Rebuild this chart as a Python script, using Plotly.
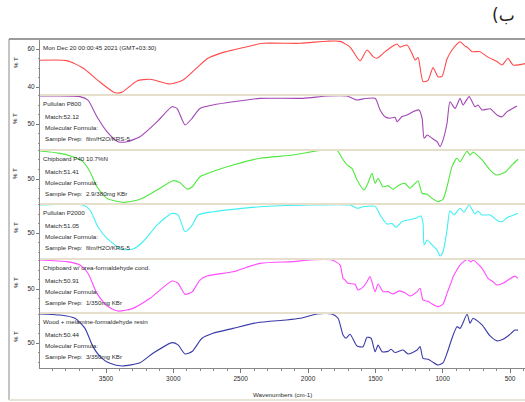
import plotly.graph_objects as go

# ---------------- data (wavenumber cm-1, %T) ----------------
red_wn = [3990, 3790, 3671, 3545, 3433, 3381, 3270, 3173, 3025, 2928, 2824, 2743, 2653, 2557, 2453, 2334,
          2059, 1859, 1762, 1688, 1614, 1562, 1517, 1488, 1428, 1369, 1339, 1317, 1265, 1228, 1205, 1183,
          1146, 1109, 1072, 1035, 1005, 968, 931, 894, 871, 834, 819, 782, 723, 671, 597, 559, 515, 478, 389]
red_t = [54.1, 53.9, 50.0, 42.6, 37.0, 37.3, 43.2, 44.1, 41.6, 43.7, 50.2, 55.1, 57.7, 59.5, 61.2, 63.0,
         63.0, 64.1, 64.0, 61.0, 53.8, 59.5, 56.0, 55.1, 58.6, 61.6, 62.6, 61.0, 62.1, 57.7, 54.2, 55.5,
         42.8, 43.5, 50.2, 45.4, 45.6, 54.7, 59.5, 62.6, 63.8, 61.5, 61.0, 58.6, 58.6, 56.0, 53.4, 51.6, 55.1, 51.6, 52.3]

purple_wn = [3990, 3693, 3634, 3567, 3493, 3411, 3344, 3248, 3121, 3010, 2973, 2913, 2861, 2802, 2706, 2557,
             2356, 2037, 1859, 1710, 1636, 1592, 1502, 1465, 1428, 1391, 1354, 1339, 1302, 1265, 1220, 1176,
             1153, 1138, 1116, 1079, 1042, 1020, 998, 968, 946, 908, 871, 849, 804, 760, 738, 708, 648, 597,
             559, 522, 448]
purple_t = [64.7, 64.4, 62.6, 53.8, 46.0, 40.7, 40.7, 43.3, 51.2, 59.1, 58.2, 49.5, 53.0, 58.2, 60.0, 61.7,
            63.5, 63.5, 64.7, 64.7, 62.6, 63.2, 63.5, 57.4, 53.8, 53.0, 53.5, 51.2, 53.9, 54.7, 56.5, 57.4,
            53.0, 42.5, 44.2, 42.5, 40.7, 38.1, 41.5, 50.4, 61.7, 58.2, 63.5, 60.0, 64.4, 59.1, 60.0, 57.4, 58.0, 54.7,
            53.8, 56.5, 59.5]

green_wn = [3990, 3842, 3745, 3671, 3619, 3567, 3493, 3366, 3248, 3121, 3002, 2950, 2898, 2861, 2802, 2676,
            2557, 2356, 2111, 1911, 1784, 1747, 1710, 1673, 1636, 1584, 1554, 1525, 1502, 1480, 1443, 1406,
            1369, 1331, 1280, 1243, 1205, 1183, 1153, 1116, 1079, 1035, 998, 968, 931, 894, 871, 819, 797,
            775, 708, 648, 597, 537, 485, 441]
green_t = [64.7, 63.5, 61.7, 59.1, 53.8, 45.9, 39.8, 37.7, 39.3, 44.2, 49.1, 48.0, 44.7, 45.8, 51.2, 54.7,
           57.4, 60.9, 62.6, 65.0, 65.0, 60.9, 57.4, 55.5, 49.5, 44.2, 48.0, 53.0, 47.7, 50.4, 45.9, 46.5,
           44.6, 46.5, 47.7, 45.1, 47.7, 49.1, 42.5, 42.0, 39.8, 38.1, 39.3, 45.9, 56.5, 60.9, 59.1, 64.7, 62.5,
           64.2, 60.0, 54.7, 52.1, 53.5, 57.4, 60.4]

cyan_wn = [3990, 3671, 3619, 3560, 3493, 3381, 3300, 3225, 3121, 3010, 2965, 2913, 2861, 2817, 2706, 2356,
           1985, 1688, 1636, 1592, 1502, 1465, 1413, 1376, 1346, 1302, 1265, 1205, 1161, 1146, 1138, 1116,
           1079, 1042, 1020, 998, 968, 946, 916, 871, 842, 804, 760, 738, 708, 648, 589, 559, 522, 441]
cyan_t = [64.7, 64.7, 62.1, 53.3, 47.2, 41.4, 41.6, 45.4, 54.2, 60.4, 59.5, 50.7, 54.0, 59.5, 61.2, 63.8,
          64.7, 64.7, 63.0, 63.8, 64.0, 59.5, 54.7, 55.0, 53.0, 56.0, 56.8, 57.6, 58.9, 55.0, 43.7, 46.3,
          43.7, 41.0, 37.9, 40.0, 51.6, 61.7, 59.5, 63.0, 61.0, 64.7, 60.0, 61.6, 59.5, 59.5, 56.3, 56.0, 58.0, 60.4]

magenta_wn = [3990, 3790, 3693, 3634, 3567, 3493, 3411, 3300, 3173, 3010, 2965, 2913, 2861, 2802, 2750, 2557,
              2356, 2111, 1985, 1822, 1762, 1740, 1725, 1703, 1651, 1629, 1592, 1562, 1540, 1502, 1480, 1443,
              1406, 1369, 1324, 1280, 1243, 1190, 1168, 1146, 1109, 1079, 1035, 998, 968, 931, 923, 871, 819,
              790, 775, 708, 663, 626, 597, 552, 515, 463, 441]
magenta_t = [65.3, 64.4, 62.6, 58.3, 47.7, 41.1, 38.4, 39.8, 45.1, 54.2, 53.0, 47.2, 48.5, 54.7, 56.8, 59.1,
             63.5, 64.4, 65.3, 65.3, 62.6, 55.6, 54.7, 53.0, 52.5, 49.5, 51.0, 53.8, 56.5, 48.6, 52.6, 48.6,
             48.6, 47.4, 49.0, 48.0, 46.3, 48.6, 50.4, 44.2, 43.5, 42.1, 40.7, 42.0, 47.7, 54.7, 56.5, 62.6, 65.6,
             64.2, 65.3, 60.9, 55.6, 53.8, 52.1, 53.0, 54.7, 56.8, 55.6]

navy_wn = [3990, 3842, 3730, 3656, 3597, 3530, 3470, 3381, 3248, 3151, 3010, 2965, 2913, 2861, 2787, 2706,
           2557, 2379, 2163, 2059, 1933, 1822, 1777, 1740, 1718, 1688, 1636, 1592, 1562, 1532, 1502, 1480,
           1450, 1406, 1383, 1354, 1294, 1257, 1190, 1168, 1146, 1109, 1079, 1035, 998, 968, 931, 894, 871,
           819, 797, 775, 708, 648, 597, 552, 515, 463, 441]
navy_t = [65.3, 64.7, 63.0, 57.7, 48.1, 41.9, 39.3, 37.9, 39.6, 44.6, 50.2, 49.0, 44.2, 45.5, 52.5, 55.1,
          57.7, 60.7, 62.1, 63.0, 65.3, 65.3, 63.0, 54.2, 52.5, 54.6, 48.4, 48.0, 53.0, 52.5, 45.4, 48.9,
          45.4, 45.6, 46.7, 45.0, 46.3, 44.2, 46.3, 48.1, 41.9, 41.5, 40.2, 38.4, 39.5, 44.6, 52.5, 58.6, 57.7,
          65.1, 60.4, 63.0, 59.5, 53.7, 51.1, 52.0, 53.7, 56.8, 56.8]

panel_titles = ["Mon Dec 20 00:00:45 2021 (GMT+03:30)", "Pullulan P800", "Chipboard P40 10.7%N",
                "Pullulan P2000", "Chipboard w/ urea-formaldehyde cond.", "Wood + melamine-formaldehyde resin"]
matches = [None, "Match:52.12", "Match:51.41", "Match:51.05", "Match:50.91", "Match:50.44"]
preps = [None, "film/H2O/KRS-5", "2.9/380mg KBr", "film/H2O/KRS-5", "1/350mg KBr", "3/350mg KBr"]
x_ticks = [3500, 3000, 2500, 2000, 1500, 1000, 500]
y_ticks = [[40, 60], [50], [50], [50], [50], [50]]

series = [(red_wn, red_t), (purple_wn, purple_t), (green_wn, green_t),
          (cyan_wn, cyan_t), (magenta_wn, magenta_t), (navy_wn, navy_t)]
colors = ["#ff4a4a", "#a347b5", "#4fe83f", "#3ff0f2", "#ff4cff", "#3a3aa8"]

# ---------------- layout geometry ----------------
W, H = 525, 402
def px(x):
    return x / W
def py(y):
    return 1 - y / H

panel_px = [(39, 95), (95, 150), (150, 204), (204, 259), (259, 313), (313, 368)]
y_ranges = [[35.79, 65.26], [36.32, 65.26], [36.84, 65.26], [36.32, 65.26], [37.37, 65.79], [36.84, 65.79]]

FONT = "Liberation Sans, Arial, sans-serif"
TXT = "#2a2a2a"
FS = 6.2

fig = go.Figure()
for i, (wn, t) in enumerate(series):
    fig.add_trace(go.Scatter(x=wn, y=t, mode="lines", xaxis="x", yaxis="y" if i == 0 else f"y{i+1}",
                             line=dict(color=colors[i], width=1.1, shape="spline", smoothing=0.6),
                             hoverinfo="skip", showlegend=False))

layout = dict(width=W, height=H, margin=dict(l=0, r=0, t=0, b=0),
              paper_bgcolor="white", plot_bgcolor="white", showlegend=False,
              font=dict(family=FONT, size=FS, color=TXT))

layout["xaxis"] = dict(domain=[px(40), 1.0], range=[3990, 389], anchor="y6",
                       tickvals=x_ticks, ticks="outside", ticklen=4, tickcolor="#777", tickwidth=1,
                       minor=dict(dtick=100, ticks="outside", ticklen=2, tickcolor="#888"),
                       showline=True, linecolor="#888", linewidth=1, showgrid=False, zeroline=False,
                       tickfont=dict(family=FONT, size=6.5, color=TXT))
for i in range(6):
    top, bot = panel_px[i]
    key = "yaxis" if i == 0 else f"yaxis{i+1}"
    layout[key] = dict(domain=[py(bot), py(top)], range=y_ranges[i], anchor="x",
                       tickvals=y_ticks[i], ticks="outside", ticklen=3, tickcolor="#777",
                       minor=dict(dtick=5, ticks="outside", ticklen=1.5, tickcolor="#999"),
                       showline=True, linecolor="#888", linewidth=1, showgrid=False, zeroline=False,
                       tickfont=dict(family=FONT, size=6.5, color=TXT))

shapes = []
shapes.append(dict(type="line", xref="paper", yref="paper", x0=px(9), x1=1.0, y0=py(39), y1=py(39),
                   line=dict(color="#9c9c9c", width=2)))
shapes.append(dict(type="line", xref="paper", yref="paper", x0=px(9), x1=px(9), y0=py(39), y1=py(400),
                   line=dict(color="#8a8a8a", width=1)))
shapes.append(dict(type="line", xref="paper", yref="paper", x0=px(9), x1=1.0, y0=py(400), y1=py(400),
                   line=dict(color="#e9e5d6", width=2)))
for top, bot in panel_px[1:]:
    shapes.append(dict(type="line", xref="paper", yref="paper", x0=px(40), x1=1.0, y0=py(top), y1=py(top),
                       line=dict(color="#e6dfcc", width=2)))
layout["shapes"] = shapes

ann = []
for i in range(6):
    top, bot = panel_px[i]
    ann.append(dict(x=px(41), y=py(top + 8.5), xref="paper", yref="paper", text=panel_titles[i],
                    showarrow=False, xanchor="left", yanchor="middle", font=dict(size=FS)))
    if matches[i]:
        ann.append(dict(x=px(43), y=py(top + 21.5), xref="paper", yref="paper", text=matches[i],
                        showarrow=False, xanchor="left", yanchor="middle", font=dict(size=FS)))
        ann.append(dict(x=px(43), y=py(top + 32), xref="paper", yref="paper", text="Molecular Formula:",
                        showarrow=False, xanchor="left", yanchor="middle", font=dict(size=FS)))
        ann.append(dict(x=px(43), y=py(top + 43), xref="paper", yref="paper",
                        text="Sample Prep:  " + preps[i],
                        showarrow=False, xanchor="left", yanchor="middle", font=dict(size=FS)))
    ann.append(dict(x=px(15), y=py(top + 24), xref="paper", yref="paper", text="% T", textangle=-90,
                    showarrow=False, xanchor="center", yanchor="middle", font=dict(size=FS)))
ann.append(dict(x=px(282), y=py(394), xref="paper", yref="paper", text="Wavenumbers (cm-1)",
                showarrow=False, xanchor="center", yanchor="middle", font=dict(size=FS)))
ann.append(dict(x=px(503), y=py(15), xref="paper", yref="paper", text="(ب",
                showarrow=False, xanchor="center", yanchor="middle",
                font=dict(family="DejaVu Sans, Noto Sans, sans-serif", size=17, color="#222")))
layout["annotations"] = ann

fig.update_layout(**layout)
fig.write_html("out.html", post_script="document.body.style.margin='0';",
               config={"displayModeBar": False})
